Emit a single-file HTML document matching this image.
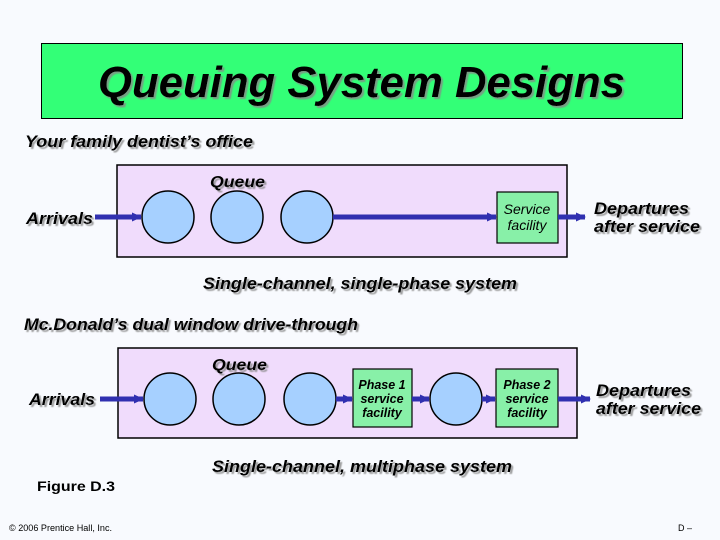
<!DOCTYPE html>
<html><head><meta charset="utf-8"><style>
html,body{margin:0;padding:0;background:#f8fafe;}
svg{display:block;}
text{font-family:"Liberation Sans",Arial,sans-serif;}
</style></head><body>
<svg width="720" height="540" viewBox="0 0 720 540" xmlns="http://www.w3.org/2000/svg">
<defs>
<marker id="ah" markerWidth="10" markerHeight="10" refX="9" refY="5" orient="auto" markerUnits="userSpaceOnUse"><path d="M0,0.5 L10,5 L0,9.5 z" fill="#3030b0"/></marker>
<filter id="sh"><feDropShadow dx="2" dy="2" stdDeviation="0.6" flood-color="#888" flood-opacity="0.8"/></filter>
</defs>
<rect x="0" y="0" width="720" height="540" fill="#f8fafe"/>
<rect x="41.5" y="43.5" width="641" height="75" fill="#33ff77" stroke="#000" stroke-width="1"/>
<text x="98" y="97" font-size="44" font-style="italic" font-weight="bold" textLength="527" lengthAdjust="spacingAndGlyphs" filter="url(#sh)">Queuing System Designs</text>
<g font-style="italic" font-weight="bold" filter="url(#sh)">
<text x="25" y="147" font-size="17" textLength="228" lengthAdjust="spacingAndGlyphs">Your family dentist’s office</text>
<text x="24" y="330" font-size="17" textLength="334" lengthAdjust="spacingAndGlyphs">Mc.Donald’s dual window drive-through</text>
</g>
<!-- Diagram 1 -->
<rect x="117" y="165" width="450" height="92" fill="#f0dcfc" stroke="#000" stroke-width="1.5"/>
<g fill="#a6d0ff" stroke="#000" stroke-width="1.5">
<ellipse cx="168" cy="217" rx="26" ry="26"/>
<ellipse cx="237" cy="217" rx="26" ry="26"/>
<ellipse cx="307" cy="217" rx="26" ry="26"/>
</g>
<rect x="497" y="192" width="61" height="51" fill="#88f0a8" stroke="#000" stroke-width="1.2"/>
<g stroke="#3030b0" stroke-width="5" marker-end="url(#ah)">
<line x1="95" y1="217" x2="141" y2="217"/>
<line x1="333" y1="217" x2="496" y2="217"/>
<line x1="558" y1="217" x2="585" y2="217"/>
</g>
<g font-style="italic" font-weight="bold" filter="url(#sh)">
<text x="210" y="187" font-size="16" textLength="55" lengthAdjust="spacingAndGlyphs">Queue</text>
<text x="26" y="224" font-size="17" textLength="67" lengthAdjust="spacingAndGlyphs">Arrivals</text>
<text x="594" y="214" font-size="17" textLength="95" lengthAdjust="spacingAndGlyphs">Departures</text>
<text x="594" y="232" font-size="17" textLength="106" lengthAdjust="spacingAndGlyphs">after service</text>
<text x="203" y="289" font-size="17" textLength="314" lengthAdjust="spacingAndGlyphs">Single-channel, single-phase system</text>
</g>
<g font-style="italic" font-size="14" text-anchor="middle">
<text x="527" y="214">Service</text>
<text x="527" y="230">facility</text>
</g>
<!-- Diagram 2 -->
<rect x="118" y="348" width="459" height="90" fill="#f0dcfc" stroke="#000" stroke-width="1.5"/>
<g fill="#a6d0ff" stroke="#000" stroke-width="1.5">
<ellipse cx="170" cy="399" rx="26" ry="26"/>
<ellipse cx="239" cy="399" rx="26" ry="26"/>
<ellipse cx="310" cy="399" rx="26" ry="26"/>
<ellipse cx="456" cy="399" rx="26" ry="26"/>
</g>
<rect x="353" y="369" width="59" height="58" fill="#88f0a8" stroke="#000" stroke-width="1.2"/>
<rect x="496" y="369" width="62" height="58" fill="#88f0a8" stroke="#000" stroke-width="1.2"/>
<g stroke="#3030b0" stroke-width="5" marker-end="url(#ah)">
<line x1="100" y1="399" x2="143" y2="399"/>
<line x1="336" y1="399" x2="352" y2="399"/>
<line x1="412" y1="399" x2="429" y2="399"/>
<line x1="482" y1="399" x2="495" y2="399"/>
<line x1="558" y1="399" x2="590" y2="399"/>
</g>
<g font-style="italic" font-weight="bold" filter="url(#sh)">
<text x="212" y="370" font-size="16" textLength="55" lengthAdjust="spacingAndGlyphs">Queue</text>
<text x="29" y="405" font-size="17" textLength="66" lengthAdjust="spacingAndGlyphs">Arrivals</text>
<text x="596" y="396" font-size="17" textLength="95" lengthAdjust="spacingAndGlyphs">Departures</text>
<text x="596" y="414" font-size="17" textLength="105" lengthAdjust="spacingAndGlyphs">after service</text>
<text x="212" y="472" font-size="17" textLength="300" lengthAdjust="spacingAndGlyphs">Single-channel, multiphase system</text>
</g>
<g font-style="italic" font-weight="bold" font-size="12.5" text-anchor="middle">
<text x="382" y="389">Phase 1</text>
<text x="382" y="403">service</text>
<text x="382" y="417">facility</text>
<text x="527" y="389">Phase 2</text>
<text x="527" y="403">service</text>
<text x="527" y="417">facility</text>
</g>
<text x="37" y="491" font-size="14" font-weight="bold" textLength="78" lengthAdjust="spacingAndGlyphs">Figure D.3</text>
<text x="9" y="531" font-size="9" textLength="103" lengthAdjust="spacingAndGlyphs">© 2006 Prentice Hall, Inc.</text>
<text x="678" y="531" font-size="9">D –</text>
</svg>
</body></html>
